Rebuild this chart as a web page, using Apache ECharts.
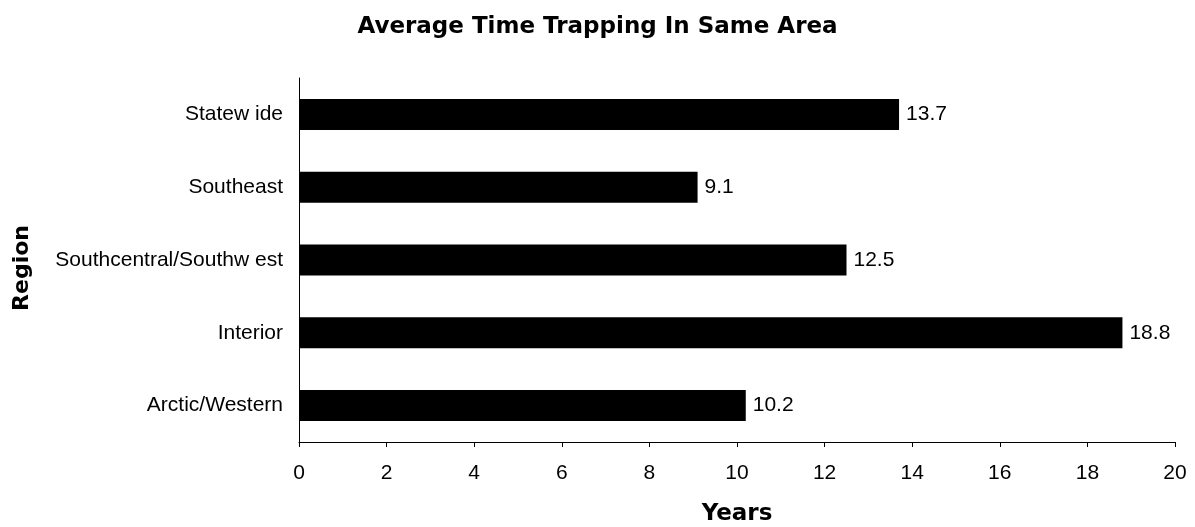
<!DOCTYPE html>
<html><head><meta charset="utf-8">
<script src="https://cdn.jsdelivr.net/npm/echarts@6/dist/echarts.min.js"></script>
<style>html,body{margin:0;padding:0;background:#fff}#c{width:1195px;height:527px}</style>
</head><body><div id="c"></div>
<script>
const categories = ["Arctic/Western", "Interior", "Southcentral/Southw est", "Southeast", "Statew ide"];
const values = [10.2, 18.8, 12.5, 9.1, 13.7];
const xTicks = [0, 2, 4, 6, 8, 10, 12, 14, 16, 18, 20];
const titleText = "Average Time Trapping In Same Area";
const xName = "Years";
const yName = "Region";

const chart = echarts.init(document.getElementById('c'), null, {renderer: 'canvas'});
const font = 'Liberation Sans, Arial, sans-serif';
const boldFont = 'DejaVu Sans, sans-serif';
chart.setOption({
  animation: false,
  backgroundColor: '#fff',
  title: {
    text: titleText, left: 'center', top: 11,
    textStyle: {fontFamily: boldFont, fontSize: 23, fontWeight: 'bold', color: '#000'}
  },
  grid: {left: 299, right: 20, top: 78, bottom: 85, containLabel: false, outerBoundsMode: 'none'},
  xAxis: {
    type: 'value', min: xTicks[0], max: xTicks[xTicks.length - 1], interval: 2,
    name: xName, nameLocation: 'middle', nameGap: 61,
    nameTextStyle: {fontFamily: boldFont, fontSize: 23, fontWeight: 'bold', color: '#000'},
    axisLine: {show: true, lineStyle: {color: '#000', width: 1}},
    axisTick: {show: true, length: 5, lineStyle: {color: '#000'}},
    axisLabel: {fontFamily: font, fontSize: 21, color: '#000', margin: 21},
    splitLine: {show: false}
  },
  yAxis: {
    type: 'category', data: categories,
    name: yName, nameLocation: 'middle', nameGap: 266, nameRotate: 90,
    nameTextStyle: {fontFamily: boldFont, fontSize: 22, fontWeight: 'bold', color: '#000', padding: [0, 16, 0, 0]},
    axisLine: {show: true, lineStyle: {color: '#000', width: 1}},
    axisTick: {show: false},
    axisLabel: {fontFamily: font, fontSize: 21, color: '#000', margin: 16},
    splitLine: {show: false}
  },
  series: [{
    type: 'bar', data: values, barWidth: 31,
    itemStyle: {color: '#000'},
    label: {show: true, position: 'right', distance: 7, fontFamily: font, fontSize: 21, color: '#000',
      formatter: p => p.value.toFixed(1)}
  }]
});
</script></body></html>
